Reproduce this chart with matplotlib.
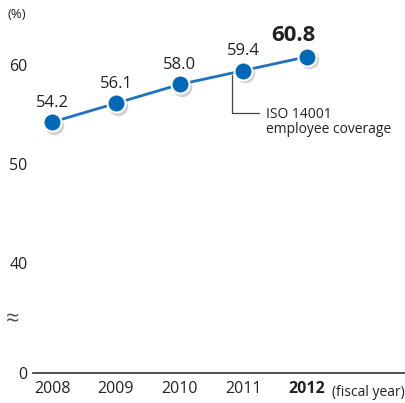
import matplotlib
matplotlib.use("Agg")
import matplotlib.pyplot as plt
import matplotlib.transforms as mtransforms

# %% Data
years = [2008, 2009, 2010, 2011, 2012]
coverage = [54.2, 56.1, 58.0, 59.4, 60.8]
tick_vals = [40, 50, 60]
ZERO_POS = 28.9  # where the "0" sits below the axis break

# %% Style
BLUE = "#1f72c0"
DOT = "#0068b7"
TEXT = "#222222"
plt.rcParams.update({
    "font.family": ["Open Sans", "DejaVu Sans"],
    "font.size": 11,
})

fig = plt.figure(figsize=(4.06, 4.03), dpi=100)
ax = fig.add_axes([33 / 406, 30 / 403, 373 / 406, 353 / 403])
ax.set_xlim(2007.70, 2013.55)
ax.set_ylim(ZERO_POS, 64.5)

for s in ["top", "right", "left"]:
    ax.spines[s].set_visible(False)
ax.spines["bottom"].set_color("#333333")
ax.spines["bottom"].set_linewidth(1.2)

# shadow under the dots
shadow = mtransforms.offset_copy(ax.transData, fig=fig, x=2, y=-2.5, units="dots")
ax.plot(years, coverage, "o", ms=14, color="#000000", alpha=0.18, mec="none",
        transform=shadow, zorder=2)
ax.plot(years, coverage, "-", color=BLUE, lw=2, zorder=3)
ax.plot(years, coverage, "o", ms=13, color=DOT, mec="white", mew=1.5, zorder=4)

# value labels
for i, (x, v) in enumerate(zip(years, coverage)):
    if i == len(years) - 1:
        ax.annotate(f"{v:.1f}", (x, v), xytext=(-10, 8), textcoords="offset points",
                    ha="center", va="bottom", fontsize=16, fontweight="bold", color=TEXT)
    else:
        ax.annotate(f"{v:.1f}", (x, v), xytext=(0, 8), textcoords="offset points",
                    ha="center", va="bottom", fontsize=12, color=TEXT)

# callout, anchored just left of the 2011 dot
anchor = mtransforms.offset_copy(ax.transData, fig=fig, x=-11, y=-4, units="dots")
ax.annotate("ISO 14001\nemployee coverage", xy=(years[3], coverage[3]), xycoords=anchor,
            xytext=(24, -34), textcoords="offset points",
            ha="left", va="center", fontsize=10, color=TEXT, linespacing=1.05,
            arrowprops=dict(arrowstyle="-", color="#444444", lw=0.9,
                            connectionstyle="angle,angleA=0,angleB=90,rad=0",
                            relpos=(0, 0.78), shrinkA=3, shrinkB=0),
            )

# y ticks
ax.set_yticks([ZERO_POS] + tick_vals)
ax.set_yticklabels(["0"] + [str(t) for t in tick_vals])
ax.tick_params(axis="y", length=0, pad=4, labelsize=11.5, labelcolor=TEXT)
ax.text(-0.055, 34.2, "≈", transform=mtransforms.blended_transform_factory(ax.transAxes, ax.transData),
        ha="center", va="center", fontsize=17, color="#555555")
fig.text(8 / 406, 1 - 15 / 403, "(%)", ha="left", va="center", fontsize=9.5, color=TEXT)

# x ticks
ax.set_xticks(years)
ax.set_xticklabels([str(y) for y in years])
ax.tick_params(axis="x", length=0, pad=6, labelsize=11.5, labelcolor=TEXT)
ax.get_xticklabels()[-1].set_fontweight("bold")
fig.text(405 / 406, 1 - 392 / 403, "(fiscal year)", ha="right", va="center",
         fontsize=10, color=TEXT)

fig.savefig("out.png", dpi=100)
